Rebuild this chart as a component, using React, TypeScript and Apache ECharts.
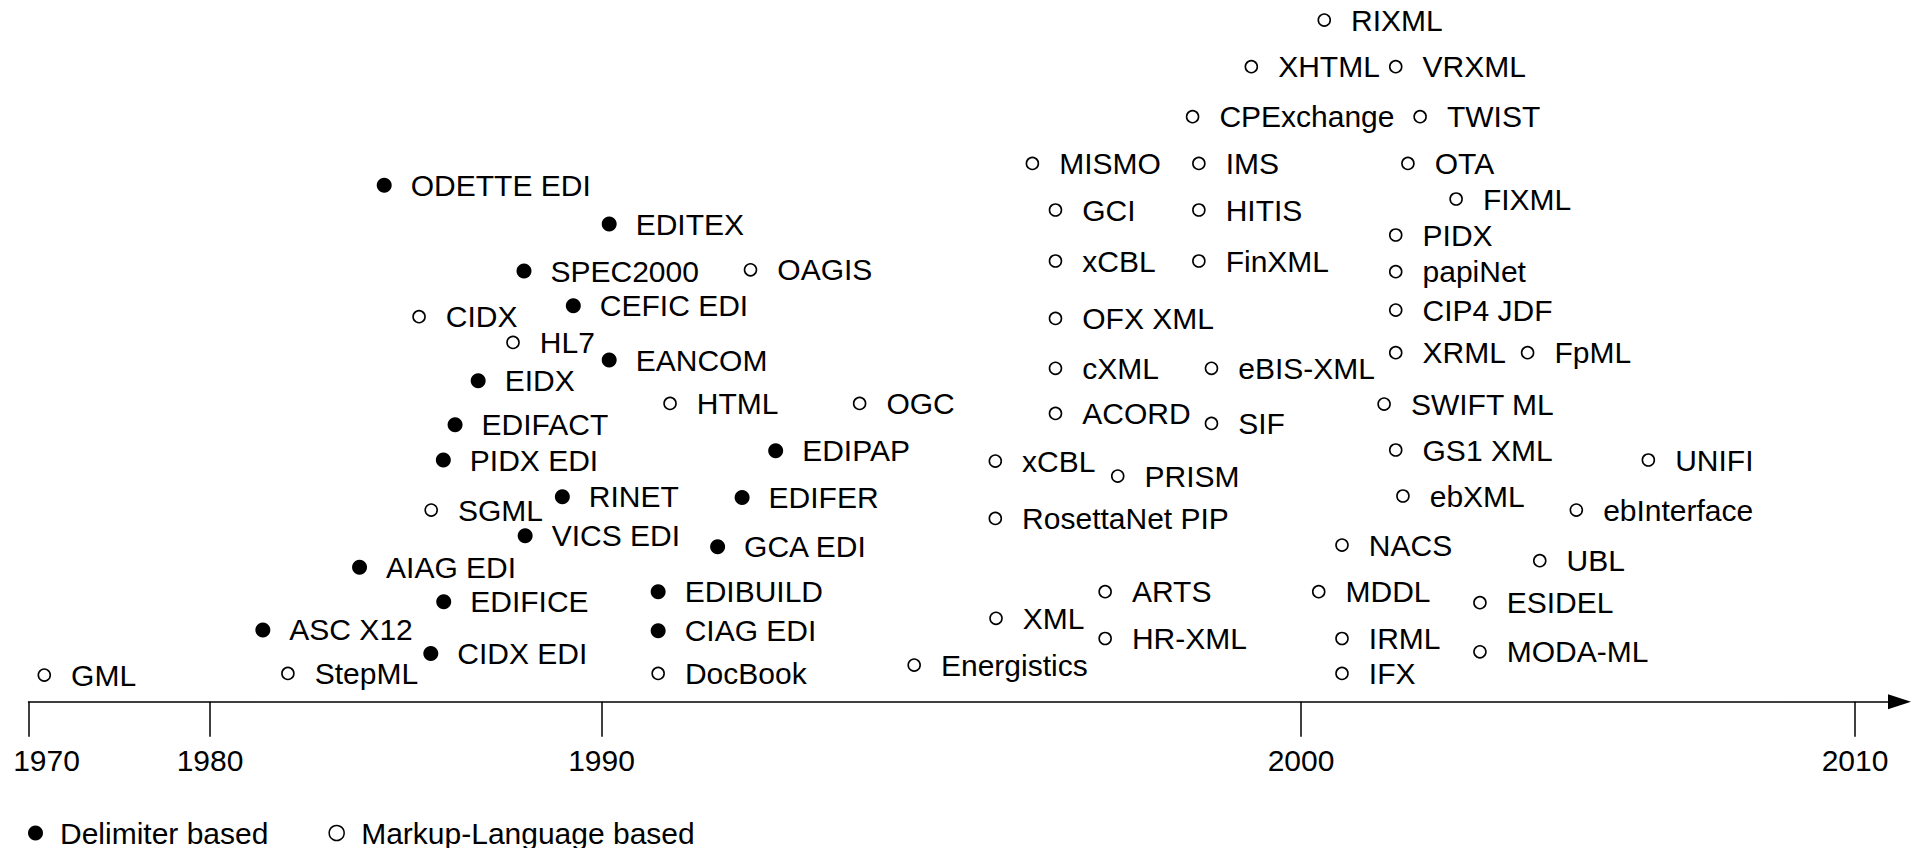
import React, { useEffect, useRef } from "react";
import * as echarts from "echarts";

// Axis: years at the ticks, and the (non-uniform) width of each decade on the original timeline
const TICK_YEARS = [1970, 1980, 1990, 2000, 2010];
const DECADE_WIDTHS = [181.5, 391.5, 699.5, 554];
const AXIS_END = 1871;

// Delimiter based standards (filled markers)
const DELIM_NAMES = [
  "ASC X12", "CIDX EDI", "AIAG EDI", "EDIFICE", "VICS EDI", "RINET", "PIDX EDI",
  "EDIFACT", "EIDX", "CEFIC EDI", "SPEC2000", "EDITEX", "ODETTE EDI", "EANCOM",
  "EDIPAP", "EDIFER", "GCA EDI", "EDIBUILD", "CIAG EDI",
];
const DELIM_YEARS = [
  1981.35, 1985.64, 1983.82, 1985.97, 1988.05, 1989.0, 1985.96,
  1986.26, 1986.85, 1989.28, 1988.02, 1990.11, 1984.45, 1990.11,
  1992.49, 1992.01, 1991.66, 1990.81, 1990.81,
];
const DELIM_LEVELS = [
  71.8, 48.3, 134.5, 100, 166, 205, 241.7,
  276.9, 321, 396, 430.7, 477.7, 516.5, 341.6,
  251, 204.3, 155, 110, 71,
];

// Markup-Language based standards (hollow markers)
const MARKUP_NAMES = [
  "GML", "StepML", "SGML", "HL7", "CIDX", "HTML", "OAGIS", "OGC", "DocBook", "Energistics",
  "xCBL", "RosettaNet PIP", "XML", "ARTS", "HR-XML", "PRISM", "ACORD", "cXML", "OFX XML",
  "xCBL", "GCI", "MISMO", "SIF", "eBIS-XML", "FinXML", "HITIS", "IMS", "CPExchange",
  "XHTML", "RIXML", "VRXML", "TWIST", "OTA", "FIXML", "PIDX", "papiNet", "CIP4 JDF",
  "XRML", "FpML", "SWIFT ML", "GS1 XML", "ebXML", "NACS", "MDDL", "IRML", "IFX",
  "ESIDEL", "MODA-ML", "UBL", "ebInterface", "UNIFI",
];
const MARKUP_YEARS = [
  1970.87, 1981.99, 1985.65, 1987.74, 1985.34, 1990.98, 1992.13, 1993.69, 1990.81, 1994.47,
  1995.63, 1995.63, 1995.64, 1997.2, 1997.2, 1997.38, 1996.49, 1996.49, 1996.49,
  1996.49, 1996.49, 1996.16, 1998.72, 1998.72, 1998.54, 1998.54, 1998.54, 1998.45,
  1999.29, 2000.42, 2001.71, 2002.15, 2001.93, 2002.8, 2001.71, 2001.71, 2001.71,
  2001.71, 2004.09, 2001.5, 2001.71, 2001.84, 2000.74, 2000.32, 2000.74, 2000.74,
  2003.23, 2003.23, 2004.31, 2004.97, 2006.27,
];
const MARKUP_LEVELS = [
  26.6, 28.3, 191.6, 359.3, 385, 298.3, 431.9, 298.3, 28.3, 36.6,
  240.6, 183.3, 83.4, 110, 63.2, 225.6, 288.3, 333.4, 383.3,
  440.7, 491.7, 538.3, 278.3, 333.4, 440.7, 491.7, 538.3, 585,
  635, 681.6, 635, 585, 538.3, 502.7, 466.7, 430, 391.6,
  349, 349, 297.6, 251.7, 205.7, 156.6, 110, 63.2, 28.3,
  99, 49.9, 141, 191.6, 241.7,
];

const SERIES_NAMES = ["Delimiter based", "Markup-Language based"];

const FONT = "'Liberation Sans', Arial, Helvetica, sans-serif";

// piecewise scale of the original timeline
const TICK_POS = TICK_YEARS.map((_, i) =>
  DECADE_WIDTHS.slice(0, i).reduce((a, b) => a + b, 0)
);
function yearToPos(y: number): number {
  for (let i = 0; i < TICK_YEARS.length - 1; i++) {
    if (y <= TICK_YEARS[i + 1] || i === TICK_YEARS.length - 2) {
      const t = (y - TICK_YEARS[i]) / (TICK_YEARS[i + 1] - TICK_YEARS[i]);
      return TICK_POS[i] + t * DECADE_WIDTHS[i];
    }
  }
  return 0;
}

function buildData(names: string[], years: number[], levels: number[]) {
  return names.map((n, i) => ({ name: n, value: [yearToPos(years[i]), levels[i]] }));
}

export default function App() {
  const ref = useRef<HTMLDivElement>(null);
  useEffect(() => {
    if (!ref.current) return;
    const chart = echarts.init(ref.current, null, { renderer: "svg" });
    const labelStyle = (distance: number) => ({
      show: true,
      position: "right" as const,
      distance,
      formatter: "{b}",
      color: "#000",
      fontSize: 30,
      fontFamily: FONT,
    });
    chart.setOption({
      animation: false,
      backgroundColor: "#fff",
      textStyle: { fontFamily: FONT, color: "#000" },
      grid: { left: 28.5, right: 14.5, top: 0, bottom: 146.3, containLabel: false },
      legend: {
        left: 23,
        top: 813,
        itemWidth: 15,
        itemHeight: 15,
        itemGap: 60,
        selectedMode: false,
        textStyle: { fontSize: 30, fontFamily: FONT, color: "#000", padding: [0, 0, 0, 12] },
        data: [
          { name: SERIES_NAMES[0], icon: "circle", itemStyle: { color: "#000", opacity: 1 } },
          { name: SERIES_NAMES[1], icon: "circle", itemStyle: { color: "#fff", borderColor: "#000", borderWidth: 1.5, opacity: 1 } },
        ],
      },
      xAxis: {
        type: "value",
        min: 0,
        max: AXIS_END,
        splitLine: { show: false },
        axisLine: {
          show: true,
          onZero: false,
          lineStyle: { color: "#000", width: 1.5 },
          symbol: ["none", "triangle"],
          symbolSize: [15, 23],
        },
        axisTick: {
          show: true,
          inside: false,
          length: 35,
          lineStyle: { color: "#000", width: 1.5 },
          customValues: TICK_POS,
        },
        axisLabel: {
          show: true,
          margin: 44,
          fontSize: 30,
          fontFamily: FONT,
          color: "#000",
          customValues: TICK_POS,
          formatter: (v: number) => {
            const i = TICK_POS.findIndex((p) => Math.abs(p - v) < 0.01);
            if (i < 0) return "";
            return i === 0 ? "{first|" + TICK_YEARS[i] + "}" : String(TICK_YEARS[i]);
          },
          rich: {
            first: { fontSize: 30, fontFamily: FONT, color: "#000", padding: [0, 0, 0, 36] },
          },
        },
      },
      yAxis: {
        type: "value",
        min: 0,
        max: 701.7,
        show: false,
      },
      series: [
        {
          name: SERIES_NAMES[0],
          type: "scatter",
          symbol: "circle",
          symbolSize: 15,
          itemStyle: { color: "#000", opacity: 1 },
          label: labelStyle(19),
          silent: true,
          data: buildData(DELIM_NAMES, DELIM_YEARS, DELIM_LEVELS),
        },
        {
          name: SERIES_NAMES[1],
          type: "scatter",
          symbol: "circle",
          symbolSize: 12,
          itemStyle: { color: "#fff", borderColor: "#000", borderWidth: 1.6, opacity: 1 },
          label: labelStyle(20),
          silent: true,
          data: buildData(MARKUP_NAMES, MARKUP_YEARS, MARKUP_LEVELS),
        },
      ],
    });
    return () => chart.dispose();
  }, []);
  return (
    <div
      ref={ref}
      style={{ position: "fixed", left: 0, top: 0, width: 1914, height: 848, background: "#fff" }}
    />
  );
}
